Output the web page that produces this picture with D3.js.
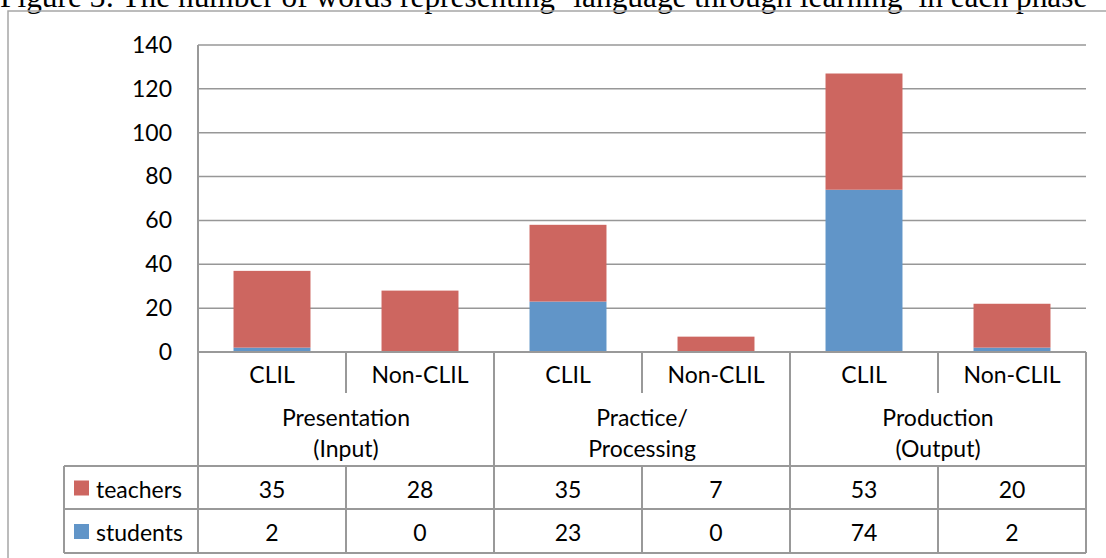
<!DOCTYPE html>
<html>
<head>
<meta charset="utf-8">
<script src="https://cdn.jsdelivr.net/npm/d3@7"></script>
<style>
  html, body { margin: 0; padding: 0; background: #fff; overflow: hidden; }
  svg { display: block; }
</style>
</head>
<body>
<div id="chart"></div>
<script>
// chart values
const categories = ["CLIL", "Non-CLIL", "CLIL", "Non-CLIL", "CLIL", "Non-CLIL"];
const groupLabels = [["Presentation", "(Input)"], ["Practice/", "Processing"], ["Production", "(Output)"]];
const teachers = [35, 28, 35, 7, 53, 20];
const students = [2, 0, 23, 0, 74, 2];
const yTicks = [0, 20, 40, 60, 80, 100, 120, 140];
const titleText = "Figure 3: The number of words representing \u2018language through learning\u2019 in each phase";

var width = 1106, height = 558;
var margin = { top: 45, left: 198, right: 1086, base: 352 };
var rows = { cat: 393, group: 466, teach: 509, stud: 553 };
var legendLeft = 64;
var font = "Lato, 'Open Sans', sans-serif";
var lineColor = "#999999";
var colors = { teachers: "#cd6660", students: "#6195c8" };

var svg = d3.select("#chart")
    .append("svg")
    .attr("width", width)
    .attr("height", height);

// title, partly cut by the top edge
var title = svg.append("text")
    .attr("x", 0)
    .attr("y", 7)
    .attr("font-family", "'Liberation Serif', 'Times New Roman', serif")
    .attr("font-size", 26)
    .attr("fill", "#000")
    .text(titleText);
var tw = title.node().getComputedTextLength();
title.attr("font-size", 26 * 1088 / tw);

// outer frame
svg.append("path")
    .attr("d", "M8," + height + "V11H" + width)
    .attr("fill", "none")
    .attr("stroke", "#a6a6a6")
    .attr("stroke-width", 1.5);

var y = d3.scaleLinear()
    .domain([0, 140])
    .range([margin.base, margin.top]);

var idx = d3.range(categories.length);
var xCell = d3.scaleBand()
    .domain(idx)
    .range([margin.left, margin.right]);
var x = d3.scaleBand()
    .domain(idx)
    .range([margin.left, margin.right])
    .paddingInner(0.48)
    .paddingOuter(0.24);

// gridlines
svg.append("g")
    .selectAll("line")
    .data(yTicks.filter(d => d > 0))
    .join("line")
    .attr("x1", margin.left)
    .attr("x2", margin.right)
    .attr("y1", d => y(d))
    .attr("y2", d => y(d))
    .attr("stroke", "#979797")
    .attr("stroke-width", 1.5);

// y axis labels
var yAxis = svg.append("g")
    .attr("transform", "translate(" + margin.left + ",0)")
    .call(d3.axisLeft(y).tickValues(yTicks).tickSize(0).tickPadding(26));
yAxis.select(".domain").remove();
yAxis.selectAll("text")
    .attr("font-family", font)
    .attr("font-size", 23)
    .attr("fill", "#000");

// stacked bars
var table = idx.map(i => ({ students: students[i], teachers: teachers[i] }));
var series = d3.stack().keys(["students", "teachers"])(table);

svg.append("g")
    .selectAll("g")
    .data(series)
    .join("g")
    .attr("fill", d => colors[d.key])
    .selectAll("rect")
    .data(d => d.map((v, i) => ({ v: v, i: i })))
    .join("rect")
    .attr("x", d => x(d.i))
    .attr("width", x.bandwidth())
    .attr("y", d => y(d.v[1]))
    .attr("height", d => y(d.v[0]) - y(d.v[1]));

// data table lines
var lines = svg.append("g")
    .attr("stroke", lineColor)
    .attr("stroke-width", 2)
    .attr("fill", "none");

lines.append("line")
    .attr("x1", margin.left).attr("x2", margin.right)
    .attr("y1", margin.base).attr("y2", margin.base);
lines.append("line")
    .attr("x1", margin.left).attr("x2", margin.left)
    .attr("y1", margin.top).attr("y2", rows.stud);
lines.append("line")
    .attr("x1", margin.right).attr("x2", margin.right)
    .attr("y1", margin.base).attr("y2", rows.stud);
lines.append("line")
    .attr("x1", legendLeft).attr("x2", legendLeft)
    .attr("y1", rows.group).attr("y2", rows.stud);
[rows.group, rows.teach, rows.stud].forEach(r => {
    lines.append("line")
        .attr("x1", legendLeft).attr("x2", margin.right)
        .attr("y1", r).attr("y2", r);
});
idx.slice(1).forEach(i => {
    var xx = xCell(i);
    if (i % 2 === 0) {
        lines.append("line")
            .attr("x1", xx).attr("x2", xx)
            .attr("y1", margin.base).attr("y2", rows.stud);
    } else {
        lines.append("line")
            .attr("x1", xx).attr("x2", xx)
            .attr("y1", margin.base).attr("y2", rows.cat);
        lines.append("line")
            .attr("x1", xx).attr("x2", xx)
            .attr("y1", rows.group).attr("y2", rows.stud);
    }
});

// table texts
var txt = svg.append("g")
    .attr("font-family", font)
    .attr("font-size", 23)
    .attr("fill", "#000")
    .attr("text-anchor", "middle")
    .attr("dominant-baseline", "central");

var cx = i => xCell(i) + xCell.bandwidth() / 2;

txt.selectAll(".cat")
    .data(categories)
    .join("text")
    .attr("class", "cat")
    .attr("x", (d, i) => cx(i))
    .attr("y", (margin.base + rows.cat) / 2 + 1)
    .text(d => d);

txt.selectAll(".grp")
    .data(groupLabels)
    .join("text")
    .attr("class", "grp")
    .attr("x", (d, g) => xCell(g * 2) + xCell.bandwidth())
    .attr("y", 417)
    .selectAll("tspan")
    .data(d => d)
    .join("tspan")
    .attr("x", function () { return d3.select(this.parentNode).attr("x"); })
    .attr("dy", (d, k) => k === 0 ? 0 : 31)
    .text(d => d);

txt.selectAll(".tv")
    .data(teachers)
    .join("text")
    .attr("class", "tv")
    .attr("x", (d, i) => cx(i))
    .attr("y", (rows.group + rows.teach) / 2 + 1)
    .text(d => d);

txt.selectAll(".sv")
    .data(students)
    .join("text")
    .attr("class", "sv")
    .attr("x", (d, i) => cx(i))
    .attr("y", (rows.teach + rows.stud) / 2 + 1)
    .text(d => d);

// legend keys inside the table
var legend = [
    { key: "teachers", y0: rows.group, y1: rows.teach },
    { key: "students", y0: rows.teach, y1: rows.stud }
];
var lg = svg.append("g")
    .selectAll("g")
    .data(legend)
    .join("g")
    .attr("transform", d => "translate(0," + (d.y0 + d.y1) / 2 + ")");
lg.append("rect")
    .attr("x", 74)
    .attr("y", -7)
    .attr("width", 15)
    .attr("height", 15)
    .attr("fill", d => colors[d.key]);
lg.append("text")
    .attr("x", 96)
    .attr("y", 1)
    .attr("dominant-baseline", "central")
    .attr("font-family", font)
    .attr("font-size", 23)
    .attr("fill", "#000")
    .text(d => d.key);
</script>
</body>
</html>
